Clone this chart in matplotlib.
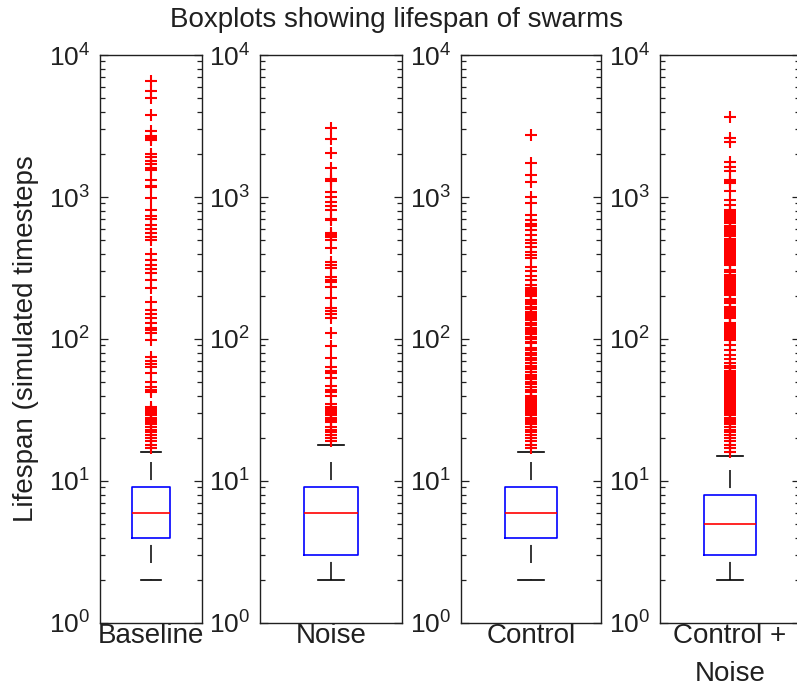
import matplotlib
matplotlib.use("Agg")
import matplotlib.pyplot as plt

plt.rcParams["font.family"] = ["Liberation Sans", "DejaVu Sans"]
plt.rcParams["mathtext.default"] = "regular"
plt.rcParams["lines.scale_dashes"] = False

groups = ["Baseline", "Noise", "Control", "Control +\nNoise"]
medians = [6, 6, 6, 5]
q1s = [4, 3, 4, 3]
q3s = [9, 9, 9, 8]
whisker_lo = [2, 2, 2, 2]
whisker_hi = [16, 18, 16, 15]

# outliers (simulated timesteps)
fliers_baseline = [17, 18, 19, 20, 21, 22, 23, 24, 25, 26, 27, 28, 29, 30, 31, 32, 33,
                   42, 44, 46, 50, 58, 63, 67, 70, 75, 98,
                   110, 115, 120, 130, 140, 150, 160, 182, 228, 260,
                   290, 310, 330, 360, 400, 500, 520, 560, 600, 640, 700, 740, 810,
                   980, 1170, 1200, 1320, 1550, 1600, 1700, 1800, 1900, 2000,
                   2500, 2600, 2700, 2900, 3780, 5000, 5600, 6600]

fliers_noise = [19, 20, 21, 22, 23, 24, 26, 27, 28, 29, 30, 31, 32, 33, 35,
                40, 42, 44, 47, 53, 58, 60, 63, 73, 89, 110,
                140, 150, 158, 166, 194, 233, 250, 260, 275, 315, 330, 350,
                440, 500, 520, 540, 560, 690, 700, 810, 860, 920, 1000, 1080,
                1300, 1320, 1340, 1600, 2040, 2570, 3060]

fliers_control = [17, 18, 19, 20, 21, 22, 23, 24, 25, 26, 27, 28, 29, 30, 31, 32,
                  33, 34, 35, 36, 37, 38, 39, 40, 42, 44, 46, 48, 50, 52, 54, 56,
                  59, 61, 63, 65, 68, 71, 74, 77, 80, 83, 86,
                  93, 96, 100, 104, 108, 112, 116, 120, 125, 130, 135, 140, 145,
                  150, 156, 162, 168, 175, 182, 188, 200, 207, 214, 220, 230, 240,
                  260, 280, 300, 320, 370, 390, 410, 445, 475, 500, 540,
                  590, 620, 650, 690, 745, 910, 1000, 1280, 1420, 1740, 2740]

fliers_ctrl_noise = [16, 17, 18, 19, 20, 21, 22, 23, 24, 25, 26, 27, 28, 29,
                     30, 31, 32, 33, 34, 35, 36, 37, 38, 39, 40, 41, 42, 43, 44, 45,
                     47, 48, 49, 50, 51, 52, 53, 54, 55, 56, 57, 58, 59, 60,
                     62, 65, 68, 72, 77, 83, 90, 98,
                     101, 104, 107, 110, 113, 116, 119, 122, 126, 130,
                     140, 144, 148, 152, 157, 162, 167, 179, 184, 190,
                     203, 209, 215, 222, 229, 236, 244, 251, 259, 267, 275, 283,
                     298, 306, 330, 340, 350, 361, 372, 383,
                     400, 412, 424, 437, 450, 464, 478, 492, 507,
                     535, 551, 568, 585, 603, 620, 655, 675, 695, 715, 740, 760, 785, 810,
                     880, 950, 1110, 1250, 1280, 1310, 1530, 1620, 1770, 2440, 2600, 3660]

fliers = [fliers_baseline, fliers_noise, fliers_control, fliers_ctrl_noise]

# axes rectangles in pixels: left, width
ax_px = [(100, 102), (260, 142), (461, 140), (660, 140)]
W, H = 797, 690
top_px, bot_px = 55, 623

fig = plt.figure(figsize=(W / 100, H / 100), dpi=100)

for i, (left, width) in enumerate(ax_px):
    ax = fig.add_axes([left / W, (H - bot_px) / H, width / W, (bot_px - top_px) / H])
    stats = [{
        "med": medians[i], "q1": q1s[i], "q3": q3s[i],
        "whislo": whisker_lo[i], "whishi": whisker_hi[i],
        "fliers": fliers[i], "label": groups[i],
    }]
    ax.bxp(stats, positions=[1], widths=0.375, capwidths=0.19,
           boxprops=dict(color="#0000ff", linewidth=1.2),
           medianprops=dict(color="#ff0000", linewidth=1.2),
           whiskerprops=dict(color="black", linewidth=1.1,
                             linestyle=(20, (13, 12))),
           capprops=dict(color="black", linewidth=1.2),
           flierprops=dict(marker="+", markeredgecolor="#ff0000",
                           markersize=9, markeredgewidth=1.5, linestyle="none"))
    ax.set_yscale("log")
    ax.set_ylim(1, 1e4)
    ax.set_xlim(0.5, 1.5)
    ax.tick_params(axis="y", which="both", direction="in", left=True, right=True,
                   labelsize=19, pad=7, colors="#202020")
    ax.tick_params(axis="y", which="major", length=6, width=0.9)
    ax.tick_params(axis="y", which="minor", length=3.5, width=0.9)
    ax.tick_params(axis="x", length=0, labelsize=20, pad=0, colors="#202020")
    ax.set_xticks([1])
    ax.set_xticklabels([groups[i]], linespacing=1.6)
    for sp in ax.spines.values():
        sp.set_linewidth(1.0)
        sp.set_color("#202020")

fig.text(0.498, 1 - 27 / H, "Boxplots showing lifespan of swarms", ha="center",
         va="baseline", fontsize=20, color="#202020")
fig.text(26 / W, 1 - 339 / H, "Lifespan (simulated timesteps", rotation=90,
         ha="center", va="center", fontsize=20, color="#202020")

fig.savefig("out.png", dpi=100)
